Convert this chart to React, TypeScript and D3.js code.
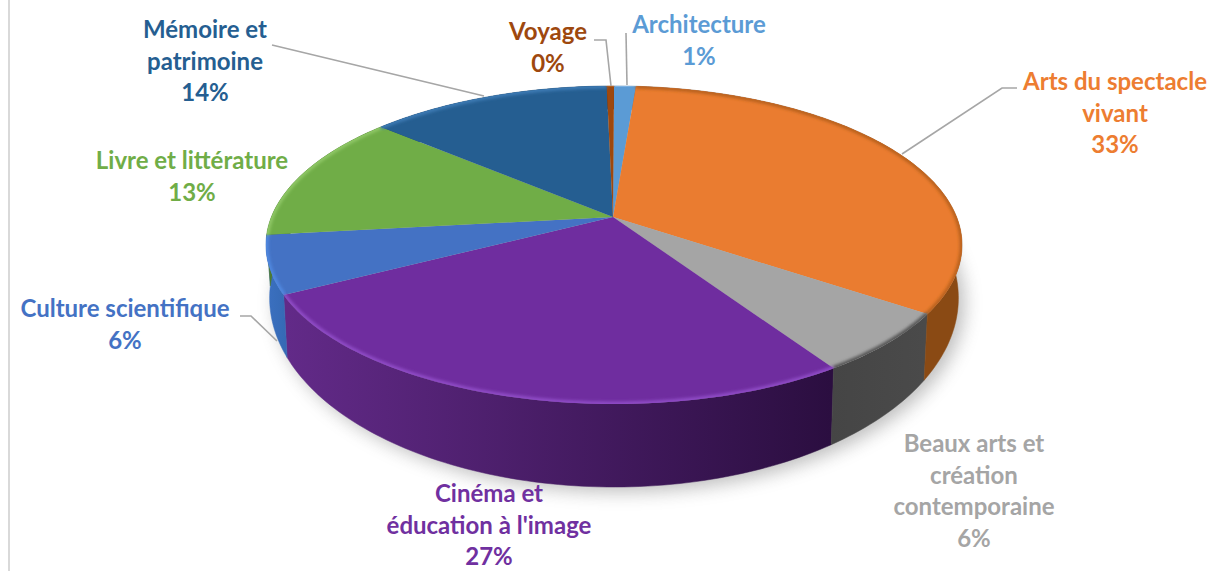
import React from 'react'
import * as d3 from 'd3'

const categories = ['Architecture', 'Arts du spectacle vivant', 'Beaux arts et création contemporaine', 'Cinéma et éducation à l\'image', 'Culture scientifique', 'Livre et littérature', 'Mémoire et patrimoine', 'Voyage']
const shares = [1.2, 33.4, 6.2, 26.5, 5.9, 13.1, 13.3, 0.4]
const percentLabels = ['1%', '33%', '6%', '27%', '6%', '13%', '14%', '0%']
const colors = ['#5b9bd5', '#ea7c30', '#a5a5a5', '#6f2d9f', '#4472c4', '#70ad47', '#255e91', '#9e480e']
const wallColors = [
  ['#3f77a8', '#3f77a8'],
  ['#6b3510', '#8a4a14'],
  ['#4a4a4a', '#454545'],
  ['#2b0e40', '#622a88'],
  ['#3569b4', '#3a6fbe'],
  ['#4c7a30', '#4c7a30'],
  ['#1b4a75', '#1b4a75'],
  ['#6d310a', '#6d310a'],
]
const rimColors = ['#7fb4e4', '#b9621f', '#555555', '#8f4cc6', '#4f88e0', '#8fc766', '#3c7ab4', '#b7601f']

// label lines and anchors, same order as categories
const labelLines = [
  ['Architecture', '1%'],
  ['Arts du spectacle', 'vivant', '33%'],
  ['Beaux arts et', 'création', 'contemporaine', '6%'],
  ['Cinéma et', 'éducation à l\'image', '27%'],
  ['Culture scientifique', '6%'],
  ['Livre et littérature', '13%'],
  ['Mémoire et', 'patrimoine', '14%'],
  ['Voyage', '0%'],
]
const labelAnchors: [number, number][] = [[699, 25], [1115, 82], [974, 444], [489, 494], [125, 309], [192, 161], [205, 30], [548, 32]]
const labelLineHeight = 31.5
const leaders: [number, number][][] = [
  [[626, 33], [627, 85]],
  [[1017, 88], [1002, 88], [902, 154]],
  [],
  [],
  [[240, 316], [251, 316], [277, 341]],
  [],
  [[272, 45], [484, 96]],
  [[594, 40], [606, 40], [611, 86]],
]

const cx = 614
const topFace = { r: 342.6, a: 115.9, b: 217 }
const bottomFace = { r: 339, a: 136.5, b: 264.8 }
const persp = -0.176

type Face = { r: number; a: number; b: number }

// circle point -> screen, with the perspective of the tilted pie
const project = (f: Face, t: number): [number, number] => {
  const u = Math.sin(t)
  const v = -Math.cos(t)
  const d = persp * v + 1
  return [cx + (f.r * u) / d, (f.a * v + f.b) / d]
}

const arcPoints = (f: Face, t0: number, t1: number) => {
  const n = Math.max(2, Math.ceil(Math.abs(t1 - t0) / 0.02))
  return d3.range(n + 1).map((i) => project(f, t0 + ((t1 - t0) * i) / n))
}

const line = d3.line()
const pie = d3.pie<number>().sort(null).value((d) => d)

export default function App() {
  const slices = pie(shares)
  const apex: [number, number] = [cx - 1, topFace.b]
  const full = arcPoints(topFace, 0, Math.PI * 2)
  const fullBottom = arcPoints(bottomFace, 0, Math.PI * 2)
  const order = d3.range(slices.length).sort((i, j) =>
    Math.abs(Math.cos((slices[j].startAngle + slices[j].endAngle) / 2) + 1) > Math.abs(Math.cos((slices[i].startAngle + slices[i].endAngle) / 2) + 1) ? -1 : 1)

  return (
    <svg width={1211} height={571} style={{ position: 'absolute', left: 0, top: 0, background: '#fff' }} fontFamily="Lato, 'Noto Sans', sans-serif">
      <defs>
        <filter id="shadow" x="-10%" y="-10%" width="120%" height="130%">
          <feGaussianBlur stdDeviation="9" />
        </filter>
        <filter id="rim" x="-10%" y="-10%" width="120%" height="120%">
          <feGaussianBlur stdDeviation="1.6" />
        </filter>
        <clipPath id="topClip">
          <path d={line(full) + 'Z'} />
        </clipPath>
        {wallColors.map((c, i) => (
          <linearGradient key={i} id={`wall${i}`} gradientUnits="userSpaceOnUse" x1={project(bottomFace, slices[i].startAngle)[0]} x2={project(bottomFace, slices[i].endAngle)[0]} y1={0} y2={0}>
            <stop offset="0" stopColor={c[0]} />
            <stop offset="1" stopColor={c[1]} />
          </linearGradient>
        ))}
      </defs>

      <line x1={9} x2={9} y1={0} y2={571} stroke="#d9d9d9" strokeWidth={2} />

      <g filter="url(#shadow)" opacity={0.38}>
        <path d={line(fullBottom.map(([x, y]) => [x + 6, y + 5] as [number, number])) + 'Z'} fill="#555" />
      </g>

      {order.map((i) => {
        const s = slices[i]
        const pts = [...arcPoints(topFace, s.startAngle, s.endAngle), ...arcPoints(bottomFace, s.endAngle, s.startAngle)]
        return <path key={i} d={line(pts) + 'Z'} fill={`url(#wall${i})`} stroke={`url(#wall${i})`} strokeWidth={0.5} />
      })}

      {slices.map((s, i) => (
        <path key={i} d={line([apex, ...arcPoints(topFace, s.startAngle, s.endAngle)]) + 'Z'} fill={colors[i]} />
      ))}

      <g clipPath="url(#topClip)">
        {slices.map((s, i) => (
          <path key={i} d={line(arcPoints(topFace, s.startAngle, s.endAngle)) as string} fill="none" stroke={rimColors[i]} strokeWidth={5} filter="url(#rim)" />
        ))}
      </g>

      {leaders.map((pts, i) => pts.length > 0 && (
        <path key={i} d={line(pts) as string} fill="none" stroke="#a6a6a6" strokeWidth={1.6} />
      ))}

      {categories.map((name, i) => (
        <text key={name} x={labelAnchors[i][0]} y={labelAnchors[i][1]} fill={colors[i] === '#ea7c30' ? '#ed7d31' : colors[i] === '#6f2d9f' ? '#7030a0' : colors[i]} fontSize={24} fontWeight={700} textAnchor="middle">
          {labelLines[i].map((t, k) => (
            <tspan key={k} x={labelAnchors[i][0]} y={labelAnchors[i][1] + k * labelLineHeight} dy="0.35em">{t}</tspan>
          ))}
        </text>
      ))}
      <desc>{percentLabels.join(' ')}</desc>
    </svg>
  )
}
